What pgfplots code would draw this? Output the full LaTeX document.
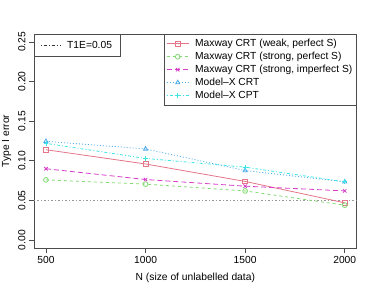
\documentclass[border=0pt]{standalone}
\usepackage{fontspec}
\setmainfont{Liberation Sans}
\usepackage{pgfplots}
\pgfplotsset{compat=1.18}
\definecolor{rred}{HTML}{DF536B}
\definecolor{rgreen}{HTML}{61D04F}
\definecolor{rblue}{HTML}{2297E6}
\definecolor{rcyan}{HTML}{28E2E5}
\definecolor{rmag}{HTML}{CD0BBC}
\newcommand{\fs}{\fontsize{10.3}{12}\selectfont}
\begin{document}
\begin{tikzpicture}
\path[use as bounding box] (0,0) rectangle (374bp,291bp);
\begin{axis}[
  at={(34bp,43bp)}, anchor=south west,
  scale only axis, width=322.7bp, height=214bp,
  xmin=440, xmax=2060, ymin=-0.01, ymax=0.26,
  xtick={500,1000,1500,2000},
  ytick={0,0.05,0.10,0.15,0.20,0.25},
  yticklabels={0.00,0.05,0.10,0.15,0.20,0.25},
  /pgf/number format/1000 sep={},
  /pgf/number format/assume math mode=true,
  tick align=outside, major tick length=5bp,
  axis line style={black!70, line width=0.8bp},
  every tick/.style={black!70, line width=0.8bp},
  xtick pos=bottom, ytick pos=left,
  tick label style={font=\fs},
  yticklabel style={rotate=90, anchor=south},
  label style={font=\fs},
  xlabel={N (size of unlabelled data)},
  xlabel style={yshift=-2bp},
  ylabel={Type I error},
  legend cell align=left,
  legend style={at={(1,1)}, anchor=north east, draw=black!70, line width=0.8bp, font=\fs,
    inner xsep=2bp, inner ysep=3bp, row sep=0bp,
    /tikz/every odd column/.append style={column sep=4bp}},
  legend image code/.code={\draw[mark repeat=2,mark phase=2,#1] plot coordinates {(0bp,0bp)(11bp,0bp)(22bp,0bp)};},
  every axis plot/.append style={line width=0.8bp, mark size=2.4bp, mark options={solid, line width=0.8bp}},
]
\addplot[gray!80, dash pattern=on 1bp off 2bp on 2bp off 2bp, line width=0.8bp, forget plot] coordinates {(440,0.05) (2060,0.05)};
\addplot[rred!80, mark=square] coordinates {(500,0.114) (1000,0.096) (1500,0.074) (2000,0.047)};
\addlegendentry{Maxway CRT (weak, perfect S)}
\addplot[rgreen!80, dash pattern=on 3bp off 3bp, mark=o] coordinates {(500,0.076) (1000,0.0706) (1500,0.062) (2000,0.044)};
\addlegendentry{Maxway CRT (strong, perfect S)}
\addplot[rmag!80, dash pattern=on 5bp off 3bp, mark=x] coordinates {(500,0.090) (1000,0.0764) (1500,0.068) (2000,0.062)};
\addlegendentry{Maxway CRT (strong, imperfect S)}
\addplot[rblue!80, dash pattern=on 1bp off 2bp, mark=triangle] coordinates {(500,0.1246) (1000,0.115) (1500,0.0877) (2000,0.0735)};
\addlegendentry{Model--X CRT}
\addplot[rcyan!90, dash pattern=on 1bp off 2bp on 3bp off 2bp, mark=+] coordinates {(500,0.122) (1000,0.103) (1500,0.092) (2000,0.0735)};
\addlegendentry{Model--X CPT}
\end{axis}
\begin{axis}[
  at={(34bp,43bp)}, anchor=south west,
  scale only axis, width=322.7bp, height=214bp,
  xmin=440, xmax=2060, ymin=-0.01, ymax=0.26,
  hide axis,
  legend style={at={(0,1)}, anchor=north west, draw=black!70, line width=0.8bp, font=\fs,
    inner xsep=6bp, inner ysep=4.5bp,
    /tikz/every odd column/.append style={column sep=4bp}},
  legend image code/.code={\draw[#1] (0bp,0bp) -- (20bp,0bp);},
]
\addlegendimage{black!80, line width=0.8bp, dash pattern=on 1bp off 2bp on 3bp off 2bp}
\addlegendentry{T1E=0.05}
\end{axis}
\end{tikzpicture}
\end{document}
